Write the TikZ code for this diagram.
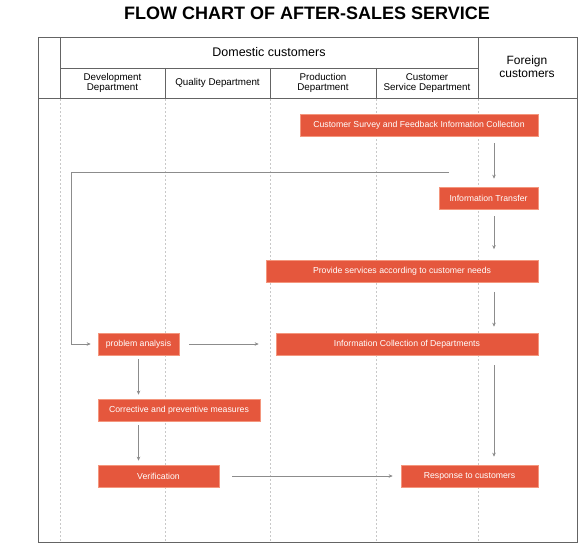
\documentclass[tikz,border=0pt]{standalone}
\usepackage{fontspec}
\setmainfont{Liberation Sans}
\usetikzlibrary{arrows.meta}
\definecolor{boxred}{RGB}{229,87,61}
\definecolor{boxedge}{RGB}{244,150,125}
\definecolor{arrgray}{RGB}{140,140,140}
\definecolor{gridgray}{RGB}{200,200,200}
\definecolor{framegray}{RGB}{100,100,100}
\begin{document}
\begin{tikzpicture}[x=1pt,y=-1pt,
  stepbox/.style={draw=boxedge,line width=0.6pt,fill=boxred,text=white,inner sep=0pt,
    minimum height=22pt,font=\fontsize{8.7}{10}\selectfont,anchor=center},
  arr/.style={draw=arrgray,line width=0.8pt,-{Stealth[length=4pt,width=3.5pt]}},
  frame/.style={draw=framegray,line width=0.9pt},
  grid/.style={draw=gridgray,line width=0.6pt,dash pattern=on 2pt off 2pt},
  colhead/.style={align=center,font=\fontsize{9.8}{10.5}\selectfont,anchor=center}]
\useasboundingbox (0,0) rectangle (578,543);
% title
\node[font=\fontsize{18}{20}\selectfont\bfseries,anchor=center] (title) at (307,13) {FLOW CHART OF AFTER-SALES SERVICE};
% table frame
\draw[frame] (38,37) rectangle (577,542);
\draw[frame] (60,68) -- (478,68);
\draw[frame] (38,98) -- (577,98);
\draw[frame] (60,37) -- (60,98);
\draw[frame] (478,37) -- (478,98);
\foreach \xx in {165,270,376} \draw[frame] (\xx,68) -- (\xx,98);
\foreach \xx in {60,165,270,376,478} \draw[grid] (\xx,99) -- (\xx,541);
% headers
\node[font=\fontsize{12.5}{14}\selectfont,anchor=center] (dom) at (269,52) {Domestic customers};
\node[align=center,font=\fontsize{12}{13}\selectfont,anchor=center] (for) at (527,67) {Foreign\\customers};
\node[colhead] (h1) at (112.5,83) {Development\\Department};
\node[colhead] (h2) at (217.5,83) {Quality Department};
\node[colhead] (h3) at (323,83) {Production\\Department};
\node[colhead] (h4) at (427,83) {Customer\\Service Department};
% boxes
\node[stepbox,minimum width=238pt] (survey) at (419,125) {Customer Survey and Feedback Information Collection};
\node[stepbox,minimum width=99pt] (transfer) at (488.5,198) {Information Transfer};
\node[stepbox,minimum width=272pt] (provide) at (402,271.5) {Provide services according to customer needs};
\node[stepbox,minimum width=262pt] (infocoll) at (407,344) {Information Collection of Departments};
\node[stepbox,minimum width=81pt] (problem) at (138.5,344) {problem analysis};
\node[stepbox,minimum width=162pt] (corrective) at (179,410) {Corrective and preventive measures};
\node[stepbox,minimum width=121pt] (verif) at (158.5,476) {Verification};
\node[stepbox,minimum width=137pt] (response) at (469.5,476) {Response to customers};
% helper coordinates
\coordinate (xcol) at (494,0);
\coordinate (fbstart) at (449,172);
\coordinate (fbcorner) at (71,172);
% connectors
\draw[arr,shorten <=7pt,shorten >=8pt] (survey.south -| xcol) -- (transfer.north -| xcol);
\draw[arr,shorten <=7pt,shorten >=11pt] (transfer.south -| xcol) -- (provide.north -| xcol);
\draw[arr,shorten <=9pt,shorten >=6pt] (provide.south -| xcol) -- (infocoll.north -| xcol);
\draw[arr,shorten <=10pt,shorten >=8pt] (infocoll.south -| xcol) -- (response.north -| xcol);
\draw[arr,shorten >=7pt] (fbstart) -- (fbcorner) |- (problem.west);
\draw[arr,shorten <=10pt,shorten >=17pt] (problem.east) -- (infocoll.west);
\draw[arr,shorten <=4pt,shorten >=4pt] (problem.south) -- (problem.south |- corrective.north);
\draw[arr,shorten <=4pt,shorten >=4pt] (problem.south |- corrective.south) -- (problem.south |- verif.north);
\draw[arr,shorten <=13pt,shorten >=8pt] (verif.east) -- (response.west);
\end{tikzpicture}
\end{document}
